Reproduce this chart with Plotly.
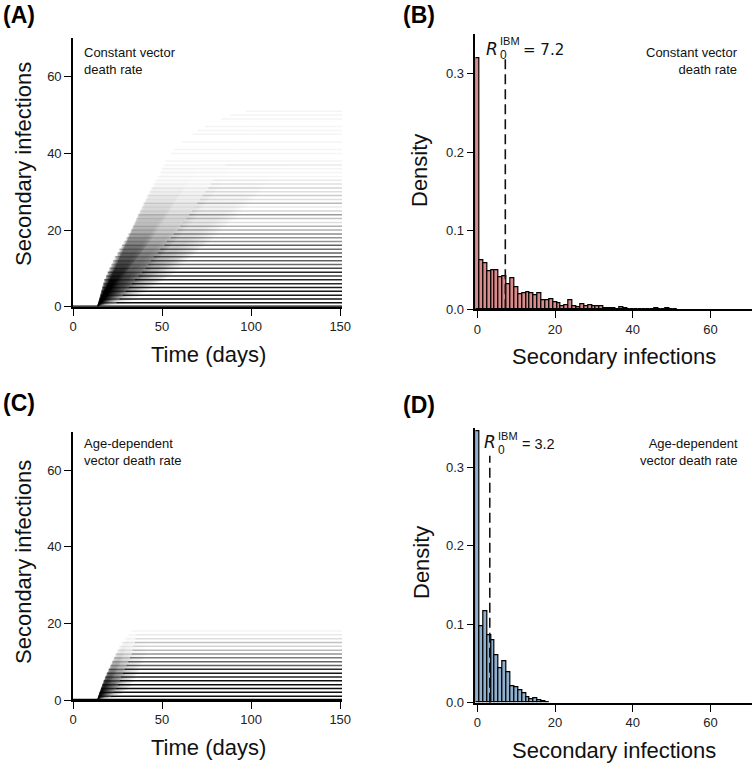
import plotly.graph_objects as go

W, H = 755, 767

# ---------------- data ----------------
# Panel B: distribution of secondary infections, constant vector death rate
B_bins = list(range(0, 52))
B_density = [0.320, 0.063, 0.058, 0.048, 0.050, 0.050, 0.041, 0.042, 0.032, 0.040,
             0.028, 0.019, 0.021, 0.022, 0.021, 0.018, 0.021, 0.012, 0.012, 0.013,
             0.0085, 0.008, 0.0034, 0.0055, 0.011, 0.004, 0.0025, 0.007, 0.0034, 0.005,
             0.0034, 0.004, 0.0034, 0.0017, 0.001, 0.001, 0.0005, 0.002, 0.001, 0.0,
             0.0005, 0.0005, 0.0, 0.0005, 0.0, 0.0005, 0.001, 0.0005, 0.0, 0.001,
             0.0005, 0.0005]
R0_B = 7.2

# Panel D: distribution of secondary infections, age-dependent vector death rate
D_bins = list(range(0, 19))
D_density = [0.346, 0.098, 0.117, 0.086, 0.079, 0.061, 0.044, 0.053, 0.039, 0.021,
             0.020, 0.016, 0.012, 0.007, 0.004, 0.006, 0.003, 0.002, 0.001]
R0_D = 3.2

# Panel A: cumulative trajectories; final level k first reached (early) / last reached (late)
A_levels = list(range(1, 52))
A_early = [14.5, 15, 15.5, 16, 16.5, 17, 17.5, 18.5, 19.5, 20.5,
           21.5, 22.5, 23.5, 25, 26, 27.5, 28.5, 30, 31, 32.5,
           33.5, 34.5, 35.5, 36.5, 37.5, 38.5, 39.5, 40.5, 41.5, 42.5,
           44, 45, 46, 47.5, 49, 50, 51, 52, 53.5, 55,
           56.5, 58, 61, 64, 67, 70, 74, 78, 83, 88, 97]
A_late = [34, 37, 40, 43, 46, 49, 52, 55, 58, 61,
          63, 65, 67, 70, 72, 75, 77, 80, 82, 85,
          87, 89, 92, 94, 96, 98, 100, 102, 104, 106,
          108, 110, 112, 114, 116, 118, 120, 122, 124, 126,
          128, 130, 132, 134, 134, 130, 126, 122, 118, 110, 100]

# Panel C
C_levels = list(range(1, 19))
C_early = [14.5, 15, 15.7, 16.4, 17.2, 18, 19, 20, 21, 22,
           23, 24, 25, 26, 27.5, 29, 31, 33]
C_late = [28, 30, 32, 34, 35, 36, 37, 38, 39, 40,
          41, 42, 42, 42, 42, 41, 40, 38]

T_START = 13.5
T_END = 151
N_SIM = 1000

FONT = "Liberation Sans, Arial, sans-serif"
FAN_STEPS = [0.3, 0.6, 1.0]


def xp(x):
    return x / W


def yp(y):
    return 1 - y / H


fig = go.Figure()


def add_traj(levels, early, late, density_tail, xa, ya):
    counts = []
    for d in density_tail:
        c = round(d * N_SIM)
        if d > 0 and c < 1:
            c = 1
        counts.append(c)
    # fans (stacked triangles -> density fades to the right)
    for k, e, l, n in zip(levels, early, late, counts):
        if n == 0:
            continue
        fa = 1 - (1 - 0.0015) ** n
        for f in FAN_STEPS:
            m = e + (l - e) * f
            fig.add_trace(go.Scatter(x=[T_START, e, m, T_START], y=[0, k, k, 0],
                                     fill="toself", mode="none",
                                     fillcolor=f"rgba(0,0,0,{fa:.4f})",
                                     xaxis=xa, yaxis=ya, hoverinfo="skip",
                                     showlegend=False))
    # flat lines
    for k, e, l, n in zip(levels, early, late, counts):
        if n == 0:
            continue
        a_full = min(0.95, 1 - (1 - 0.045) ** n)
        a_half = min(0.8, 1 - (1 - 0.045) ** max(1, n / 3))
        m = e + (l - e) * 0.5
        fig.add_trace(go.Scatter(x=[e, m], y=[k, k], mode="lines",
                                 line=dict(color=f"rgba(0,0,0,{a_half:.4f})", width=1.5),
                                 xaxis=xa, yaxis=ya, hoverinfo="skip", showlegend=False))
        fig.add_trace(go.Scatter(x=[m, T_END], y=[k, k], mode="lines",
                                 line=dict(color=f"rgba(0,0,0,{a_full:.4f})", width=1.5),
                                 xaxis=xa, yaxis=ya, hoverinfo="skip", showlegend=False))
    fig.add_trace(go.Scatter(x=[0, T_END], y=[0, 0], mode="lines",
                             line=dict(color="black", width=2.5),
                             xaxis=xa, yaxis=ya, hoverinfo="skip", showlegend=False))


add_traj(A_levels, A_early, A_late, B_density[1:], "x", "y")
add_traj(C_levels, C_early, C_late, D_density[1:], "x3", "y3")

fig.add_trace(go.Bar(x=B_bins, y=B_density, width=1,
                     marker=dict(color="#D98A8A", line=dict(color="black", width=1.2)),
                     xaxis="x2", yaxis="y2", showlegend=False))
fig.add_trace(go.Bar(x=D_bins, y=D_density, width=1,
                     marker=dict(color="#8FB0CE", line=dict(color="black", width=1.2)),
                     xaxis="x4", yaxis="y4", showlegend=False))

fig.add_trace(go.Scatter(x=[R0_B, R0_B], y=[0, 0.322], mode="lines",
                         line=dict(color="#111", width=1.6, dash="10px,5px"),
                         xaxis="x2", yaxis="y2", showlegend=False))
fig.add_trace(go.Scatter(x=[R0_D, R0_D], y=[0, 0.315], mode="lines",
                         line=dict(color="#111", width=1.6, dash="10px,5px"),
                         xaxis="x4", yaxis="y4", showlegend=False))

ax = dict(showline=True, linecolor="black", linewidth=1.6, ticks="outside",
          ticklen=7, tickwidth=1.4, tickcolor="black", showgrid=False,
          zeroline=False, automargin=False,
          tickfont=dict(family=FONT, size=13, color="#222"))

fig.update_layout(
    width=W, height=H, autosize=False, margin=dict(l=0, r=0, t=0, b=0, pad=0),
    paper_bgcolor="white", plot_bgcolor="white",
    barmode="overlay", bargap=0, showlegend=False,
    xaxis=dict(ax, domain=[xp(73), xp(342)], range=[0, 151], anchor="y",
               tickvals=[0, 50, 100, 150]),
    yaxis=dict(ax, domain=[yp(306.7), yp(38.4)], range=[0, 70], anchor="x",
               tickvals=[0, 20, 40, 60]),
    xaxis2=dict(ax, domain=[xp(475.4), xp(752)], range=[-0.5, 70.7], anchor="y2",
                tickvals=[0, 20, 40, 60]),
    yaxis2=dict(ax, domain=[yp(309.3), yp(34.3)], range=[0, 0.35], anchor="x2",
                tickvals=[0, 0.1, 0.2, 0.3], tickformat=".1f"),
    xaxis3=dict(ax, domain=[xp(73), xp(342)], range=[0, 151], anchor="y3",
                tickvals=[0, 50, 100, 150]),
    yaxis3=dict(ax, domain=[yp(700), yp(431.7)], range=[0, 70], anchor="x3",
                tickvals=[0, 20, 40, 60]),
    xaxis4=dict(ax, domain=[xp(475.4), xp(752)], range=[-0.5, 70.7], anchor="y4",
                tickvals=[0, 20, 40, 60]),
    yaxis4=dict(ax, domain=[yp(702.7), yp(428.3)], range=[0, 0.35], anchor="x4",
                tickvals=[0, 0.1, 0.2, 0.3], tickformat=".1f"),
)

ann = []


def add_text(text, x, y, size, xanchor="center", yanchor="middle", angle=0,
             align="center", family=FONT, color="#111", borderpad=1):
    ann.append(dict(text=text, x=xp(x), y=yp(y), xref="paper", yref="paper",
                    xanchor=xanchor, yanchor=yanchor, textangle=angle, align=align,
                    showarrow=False, borderpad=borderpad,
                    font=dict(family=family, size=size, color=color)))


# panel labels
for lab, x, y in [("(A)", 1, 15), ("(B)", 401, 15), ("(C)", 1, 403), ("(D)", 401, 405)]:
    add_text(f"<b>{lab}</b>", x, y, 23, xanchor="left", color="black")

# axis titles
add_text("Secondary infections", 23, 164, 22, angle=-90)
add_text("Secondary infections", 23, 562, 22, angle=-90)
add_text("Time (days)", 208, 354, 22)
add_text("Time (days)", 208, 747, 22)
add_text("Density", 420, 170, 22, angle=-90)
add_text("Density", 421, 563, 22, angle=-90)
add_text("Secondary infections", 614, 356, 22)
add_text("Secondary infections", 614, 750, 22)

# in-panel texts
add_text("Constant vector<br>death rate", 82, 43, 13, xanchor="left", yanchor="top", align="left")
add_text("Constant vector<br>death rate", 740, 43, 13, xanchor="right", yanchor="top", align="right")
add_text("Age-dependent<br>vector death rate", 82, 434, 13, xanchor="left", yanchor="top", align="left")
add_text("Age-dependent<br>vector death rate", 740, 434, 13, xanchor="right", yanchor="top", align="right")

# R0 labels: italic R, then IBM stacked over 0, then "= value"
STACK = "IBM<br><span style='font-size:12px'>0</span>"
add_text("<i>R</i>", 485, 49, 17, xanchor="left", family="DejaVu Sans, sans-serif", borderpad=0)
add_text(STACK, 499, 48, 11, xanchor="left", align="left", borderpad=0)
add_text(f"= {R0_B}", 522, 50, 15, xanchor="left", family="DejaVu Sans, sans-serif", borderpad=0)

add_text("<i>R</i>", 483, 442, 17, xanchor="left", family="DejaVu Sans, sans-serif", borderpad=0)
add_text(STACK, 497, 443, 11, xanchor="left", align="left", borderpad=0)
add_text(f"= {R0_D}", 521, 444, 14.5, xanchor="left", borderpad=0)

fig.update_layout(annotations=ann)
fig.write_html("out.html", config={"responsive": False, "displayModeBar": False},
               post_script="document.body.style.margin='0';"
                           "document.body.style.padding='0';"
                           "document.documentElement.style.overflow='hidden';"
                           "document.body.style.overflow='hidden';")
